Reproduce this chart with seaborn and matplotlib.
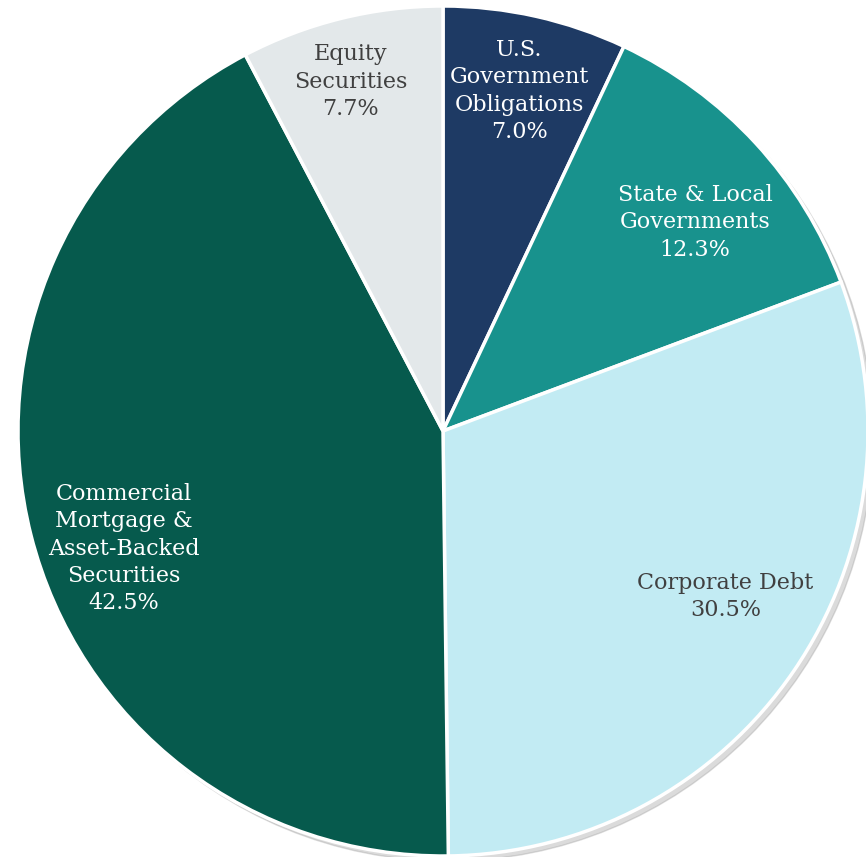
import numpy as np
import matplotlib
matplotlib.use("Agg")
import matplotlib.pyplot as plt
import seaborn as sns

# portfolio composition, clockwise from 12 o'clock
categories = ["U.S.\nGovernment\nObligations", "State & Local\nGovernments",
              "Corporate Debt", "Commercial\nMortgage &\nAsset-Backed\nSecurities",
              "Equity\nSecurities"]
shares = [7.0, 12.3, 30.5, 42.5, 7.7]

colors = ["#1e3a64", "#18928d", "#c2ebf3", "#065a4d", "#e3e8ea"]
text_colors = ["white", "white", "#404040", "white", "#404040"]
label_radius = [0.82, 0.77, 0.77, 0.80, 0.85]
label_angle_shift = [0.0, -3.0, 4.0, 6.0, 1.0]


def main():
    sns.set_theme(style="white")
    plt.rcParams["font.family"] = ["DejaVu Serif"]

    fig = plt.figure(figsize=(8.66, 8.57), dpi=100)
    ax = fig.add_axes([0, 0, 1, 1])

    R = 425.0
    cx, cy = 443.0, 431.0

    # soft outer shadow ring
    shadow = plt.Circle((0.012, -0.012), 1.0, color="#9a9a9a", alpha=0.35, zorder=0)
    ax.add_patch(shadow)

    wedges, _ = ax.pie(shares, colors=colors, startangle=90, counterclock=False,
                       radius=1.0, frame=True,
                       wedgeprops=dict(edgecolor="white", linewidth=2.5))

    for w, lab, val, tc, r, da in zip(wedges, categories, shares, text_colors,
                                      label_radius, label_angle_shift):
        mid = np.deg2rad((w.theta1 + w.theta2) / 2 + da)
        ax.text(r * np.cos(mid), r * np.sin(mid), f"{lab}\n{val:.1f}%",
                ha="center", va="center", color=tc, fontsize=16,
                linespacing=1.32)

    ax.set_xlim(-cx / R, (866 - cx) / R)
    ax.set_ylim(-(857 - cy) / R, cy / R)
    ax.set_aspect("auto")
    ax.axis("off")

    fig.savefig("out.png", dpi=100)


if __name__ == "__main__":
    main()
